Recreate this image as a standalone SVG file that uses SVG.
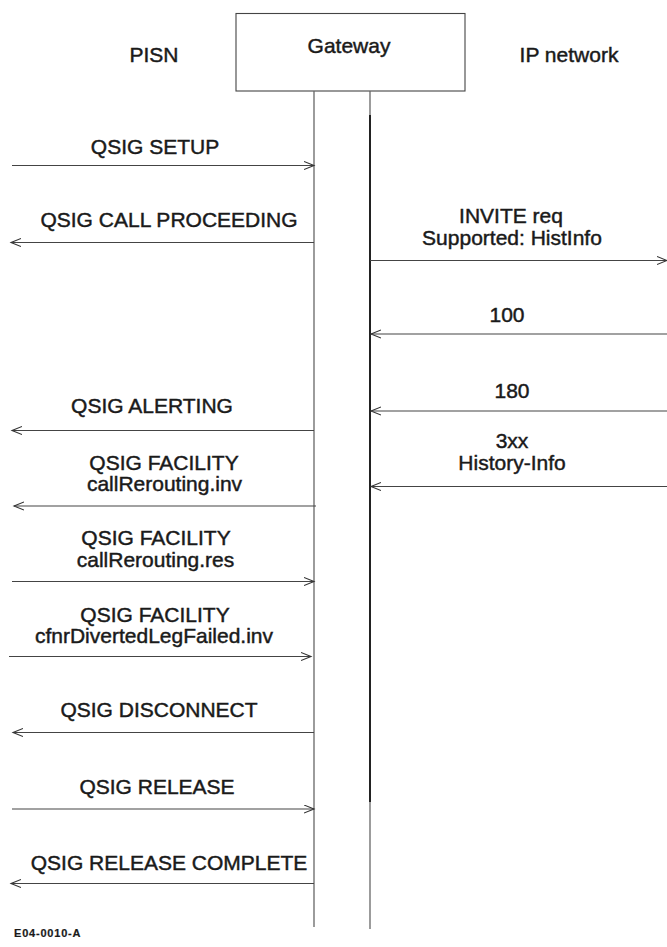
<svg xmlns="http://www.w3.org/2000/svg" width="667" height="947" viewBox="0 0 667 947">
<defs>
<marker id="ah" markerUnits="userSpaceOnUse" markerWidth="12" markerHeight="10" refX="10" refY="4.5" orient="auto" viewBox="0 0 12 10">
<path d="M0,0.5 L10,4.5 L0,8.5" fill="none" stroke="#333" stroke-width="1.1"/>
</marker>
<style>
text{font-family:"Liberation Sans",Arial,Helvetica,sans-serif;font-size:21px;fill:#1a1a1a;stroke:#1a1a1a;stroke-width:0.45px;text-anchor:middle}
.msg{stroke:#444;stroke-width:1.1;fill:none;marker-end:url(#ah)}
.life{stroke:#666;stroke-width:1.3;fill:none}
.tag{font-size:11px;font-weight:bold;text-anchor:start;letter-spacing:0.8px;stroke-width:0.2px}
</style>
</defs>
<rect width="667" height="947" fill="#ffffff"/>
<g id="node-pisn"><text x="154" y="62">PISN</text></g>
<g id="node-gateway">
<rect x="236" y="13.5" width="229" height="77.5" fill="#ffffff" stroke="#444" stroke-width="1.1"/>
<text x="349" y="53">Gateway</text>
</g>
<g id="node-ip"><text x="569" y="62">IP network</text></g>
<g id="lifelines">
<line class="life" x1="314" y1="91" x2="314" y2="927"/>
<line class="life" x1="370" y1="91" x2="370" y2="929" stroke="#888"/>
<line x1="370" y1="115" x2="370" y2="802" stroke="#222" stroke-width="2"/>
</g>
<g id="connectors">
<line class="msg" x1="12" y1="165.5" x2="314" y2="165.5"/>
<line class="msg" x1="314" y1="242.5" x2="11" y2="242.5"/>
<line class="msg" x1="370" y1="260.5" x2="667" y2="260.5"/>
<line class="msg" x1="667" y1="334" x2="371" y2="334"/>
<line class="msg" x1="667" y1="411" x2="371" y2="411"/>
<line class="msg" x1="314" y1="430.5" x2="12" y2="430.5"/>
<line class="msg" x1="667" y1="486.5" x2="371" y2="486.5"/>
<line class="msg" x1="316" y1="506" x2="14" y2="506"/>
<line class="msg" x1="12" y1="581.5" x2="314" y2="581.5"/>
<line class="msg" x1="9" y1="656.5" x2="311" y2="656.5"/>
<line class="msg" x1="314" y1="732.5" x2="13" y2="732.5"/>
<line class="msg" x1="12" y1="809" x2="314" y2="809"/>
<line class="msg" x1="314" y1="883.5" x2="11" y2="883.5"/>
</g>
<g id="labels">
<text x="155" y="154">QSIG SETUP</text>
<text x="169" y="226.5">QSIG CALL PROCEEDING</text>
<text x="511" y="223">INVITE req</text>
<text x="512" y="245">Supported: HistInfo</text>
<text x="507" y="321.5">100</text>
<text x="512" y="398">180</text>
<text x="152" y="413">QSIG ALERTING</text>
<text x="512" y="448">3xx</text>
<text x="512" y="469.5">History-Info</text>
<text x="164" y="469.5">QSIG FACILITY</text>
<text x="164.5" y="491">callRerouting.inv</text>
<text x="156" y="545">QSIG FACILITY</text>
<text x="155.5" y="566.5">callRerouting.res</text>
<text x="155" y="621.5">QSIG FACILITY</text>
<text x="154" y="643">cfnrDivertedLegFailed.inv</text>
<text x="159" y="717">QSIG DISCONNECT</text>
<text x="157" y="794">QSIG RELEASE</text>
<text x="169" y="870">QSIG RELEASE COMPLETE</text>
<text class="tag" x="14" y="937">E04-0010-A</text>
</g>
</svg>
